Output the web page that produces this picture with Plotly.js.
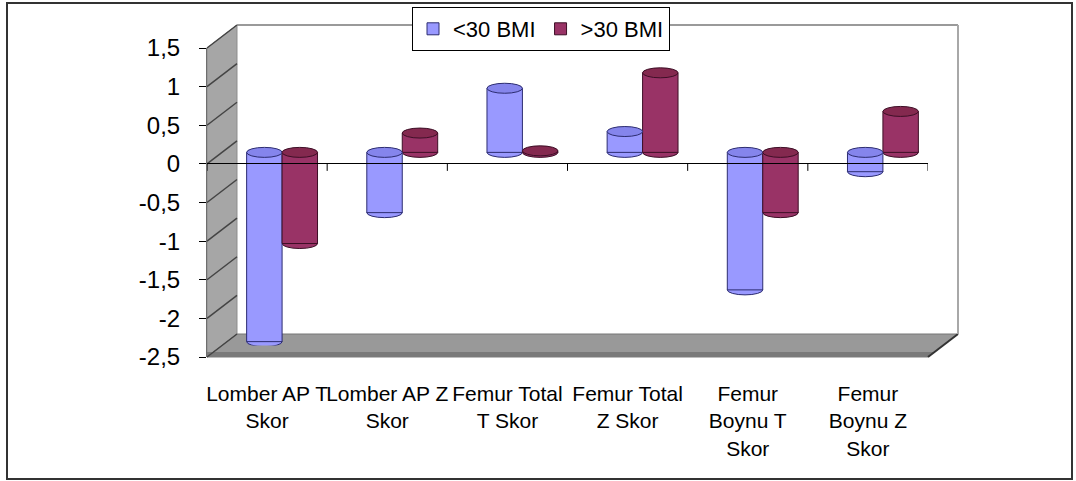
<!DOCTYPE html>
<html>
<head>
<meta charset="utf-8">
<script src="https://cdn.plot.ly/plotly-3.0.1.min.js"></script>
<style>
  html, body { margin: 0; padding: 0; background: #fff; }
  #chart { width: 1076px; height: 481px; }
</style>
</head>
<body>
<div id="chart"></div>
<script>
// Bone density scores by BMI group
const categories = [
  'Lomber AP T Skor', 'Lomber AP Z Skor', 'Femur Total T Skor',
  'Femur Total Z Skor', 'Femur Boynu T Skor', 'Femur Boynu Z Skor'
];
const categoryLabels = [
  'Lomber AP T<br>Skor', 'Lomber AP Z<br>Skor', 'Femur Total<br>T Skor',
  'Femur Total<br>Z Skor', 'Femur<br>Boynu T<br>Skor', 'Femur<br>Boynu Z<br>Skor'
];
const seriesNames = ['&lt;30 BMI', '&gt;30 BMI'];
const under30 = [-2.45, -0.78, 0.83, 0.27, -1.78, -0.25];
const over30 = [-1.18, 0.25, 0.02, 1.03, -0.78, 0.53];
const yTickValues = [-2.5, -2, -1.5, -1, -0.5, 0, 0.5, 1, 1.5];
const yTickLabels = ['-2,5', '-2', '-1,5', '-1', '-0,5', '0', '0,5', '1', '1,5'];

// ---- pseudo-3D frame geometry (pixels) ----
const W = 1076, H = 481;
const FONT = 'Liberation Sans, Arial, sans-serif';
const Y_MIN = -2.5, Y_MAX = 1.5;
const FRONT = { left: 207, right: 928, top: 48, bottom: 357 };
const DEPTH = { dx: 30, dy: -23 };
const shifted = (b, f) => ({
  left: b.left + DEPTH.dx * f, right: b.right + DEPTH.dx * f,
  top: b.top + DEPTH.dy * f, bottom: b.bottom + DEPTH.dy * f
});
const BACK = shifted(FRONT, 1);
const MID = shifted(FRONT, 0.5);
const px = x => x / W;
const py = y => 1 - y / H;
const xDom = b => [px(b.left), px(b.right)];
const yDom = b => [py(b.bottom), py(b.top)];
const yAt = (b, v) => b.bottom - (v - Y_MIN) / (Y_MAX - Y_MIN) * (b.bottom - b.top);

const BAR_GAP = 0.41;
const halfGroup = (1 - BAR_GAP) / 2;
const colors = ['#9999ff', '#993366'];
const faces = ['#8585ec', '#84294f'];
const edges = ['#2c2c70', '#3d0f26'];

const poly = pts => 'M' + pts.map(p => px(p[0]).toFixed(5) + ',' + py(p[1]).toFixed(5)).join('L') + 'Z';

const shapes = [];
// outer frame
shapes.push({ type: 'rect', xref: 'paper', yref: 'paper', x0: px(7), x1: px(1072), y0: py(479), y1: py(3),
  line: { color: '#333', width: 2 }, fillcolor: 'rgba(0,0,0,0)', layer: 'below' });
// left side wall
shapes.push({ type: 'path', xref: 'paper', yref: 'paper', layer: 'below',
  path: poly([[FRONT.left, FRONT.top], [BACK.left, BACK.top], [BACK.left, BACK.bottom], [FRONT.left, FRONT.bottom]]),
  fillcolor: '#a6a6a6', line: { color: '#8c8c8c', width: 1 } });
// floor
shapes.push({ type: 'path', xref: 'paper', yref: 'paper', layer: 'below',
  path: poly([[FRONT.left, FRONT.bottom], [BACK.left, BACK.bottom], [BACK.right, BACK.bottom], [FRONT.right, FRONT.bottom]]),
  fillcolor: '#999999', line: { color: '#777', width: 1 } });
shapes.push({ type: 'path', xref: 'paper', yref: 'paper', layer: 'below',
  path: poly([[FRONT.left, FRONT.bottom - 5], [FRONT.right + 6, FRONT.bottom - 5], [FRONT.right, FRONT.bottom], [FRONT.left, FRONT.bottom]]),
  fillcolor: '#7a7a7a', line: { width: 0 } });
shapes.push({ type: 'line', xref: 'paper', yref: 'paper', layer: 'below',
  x0: px(FRONT.right), y0: py(FRONT.bottom), x1: px(BACK.right), y1: py(BACK.bottom),
  line: { color: '#333', width: 2 } });
// back wall top and right edges
shapes.push({ type: 'line', xref: 'paper', yref: 'paper', layer: 'below',
  x0: px(BACK.left), y0: py(BACK.top), x1: px(BACK.right), y1: py(BACK.top),
  line: { color: '#9a9a9a', width: 2 } });
shapes.push({ type: 'line', xref: 'paper', yref: 'paper', layer: 'below',
  x0: px(BACK.right), y0: py(BACK.top), x1: px(BACK.right), y1: py(BACK.bottom),
  line: { color: '#a8a8a8', width: 2 } });
// gridline continuations across the side wall
yTickValues.forEach(v => {
  shapes.push({ type: 'line', xref: 'paper', yref: 'paper', layer: 'below',
    x0: px(FRONT.left), y0: py(yAt(FRONT, v)), x1: px(BACK.left), y1: py(yAt(BACK, v)),
    line: { color: '#444', width: 1.5 } });
});
// cylinder end caps
[under30, over30].forEach((vals, k) => {
  vals.forEach((v, i) => {
    const c = i + (k === 0 ? -halfGroup / 2 : halfGroup / 2);
    const base = { type: 'circle', xref: 'x2', yref: 'y2', x0: c - halfGroup / 2, x1: c + halfGroup / 2,
      ysizemode: 'pixel', y0: -5, y1: 5 };
    shapes.push(Object.assign({}, base, { yanchor: Math.min(v, 0), layer: 'below',
      fillcolor: colors[k], line: { color: edges[k], width: 1 } }));
    shapes.push(Object.assign({}, base, { yanchor: Math.max(v, 0), layer: 'above',
      fillcolor: faces[k], line: { color: edges[k], width: 1 } }));
  });
});
// category ticks on the front zero line
for (let i = 0; i <= categories.length; i++) {
  shapes.push({ type: 'line', xref: 'x3', yref: 'y3', x0: i - 0.5, x1: i - 0.5,
    ysizemode: 'pixel', yanchor: 0, y0: 0, y1: -7, line: { color: '#000', width: 1 }, layer: 'above' });
}

const traces = [under30, over30].map((vals, k) => ({
  type: 'bar', x: categories, y: vals, name: seriesNames[k],
  xaxis: 'x2', yaxis: 'y2',
  marker: { color: colors[k], line: { color: edges[k], width: 1 } },
  hoverinfo: 'skip'
}));

const hidden = { showgrid: false, zeroline: false, showline: false, ticks: '', showticklabels: false };

const layout = {
  width: W, height: H,
  margin: { l: 0, r: 0, t: 0, b: 0 },
  paper_bgcolor: '#fff', plot_bgcolor: 'rgba(0,0,0,0)',
  font: { family: FONT, color: '#000' },
  barmode: 'group', bargap: BAR_GAP, bargroupgap: 0,
  showlegend: true,
  legend: {
    orientation: 'h', x: px(541), xanchor: 'center', y: py(7), yanchor: 'top',
    bgcolor: '#fff', bordercolor: '#000', borderwidth: 1,
    font: { size: 22, family: FONT }, itemwidth: 30, traceorder: 'normal'
  },
  // back wall with gridlines
  xaxis: Object.assign({ domain: xDom(BACK), range: [0, 1], anchor: 'y' }, hidden),
  yaxis: { domain: yDom(BACK), range: [Y_MIN, Y_MAX], anchor: 'x', showgrid: true,
    gridcolor: '#454545', gridwidth: 2, tickvals: yTickValues.slice(1, -1), zeroline: false,
    showline: false, ticks: '', showticklabels: false },
  // bars at mid depth
  xaxis2: Object.assign({ domain: xDom(MID), type: 'category', range: [-0.5, categories.length - 0.5],
    anchor: 'y2', categoryorder: 'array', categoryarray: categories }, hidden),
  yaxis2: Object.assign({ domain: yDom(MID), range: [Y_MIN, Y_MAX], anchor: 'x2' }, hidden),
  // front axes: value labels and category labels
  xaxis3: { domain: xDom(FRONT), range: [-0.5, categories.length - 0.5], anchor: 'y3',
    tickvals: categories.map((_, i) => i), ticktext: categoryLabels, tickangle: 0,
    ticks: '', showgrid: false, zeroline: false, showline: false,
    tickfont: { size: 21, family: FONT, color: '#000' }, ticklabelstandoff: 22 },
  yaxis3: { domain: yDom(FRONT), range: [Y_MIN, Y_MAX], anchor: 'x3',
    tickvals: yTickValues, ticktext: yTickLabels, ticks: 'outside', ticklen: 7, tickcolor: '#000',
    showline: true, linecolor: '#6e6e6e', linewidth: 1, showgrid: false,
    zeroline: true, zerolinecolor: '#000', zerolinewidth: 1,
    tickfont: { size: 24, family: FONT, color: '#000' }, ticklabelstandoff: 14 },
  shapes: shapes
};

Plotly.newPlot('chart', traces, layout, { staticPlot: true, displayModeBar: false });
</script>
</body>
</html>
